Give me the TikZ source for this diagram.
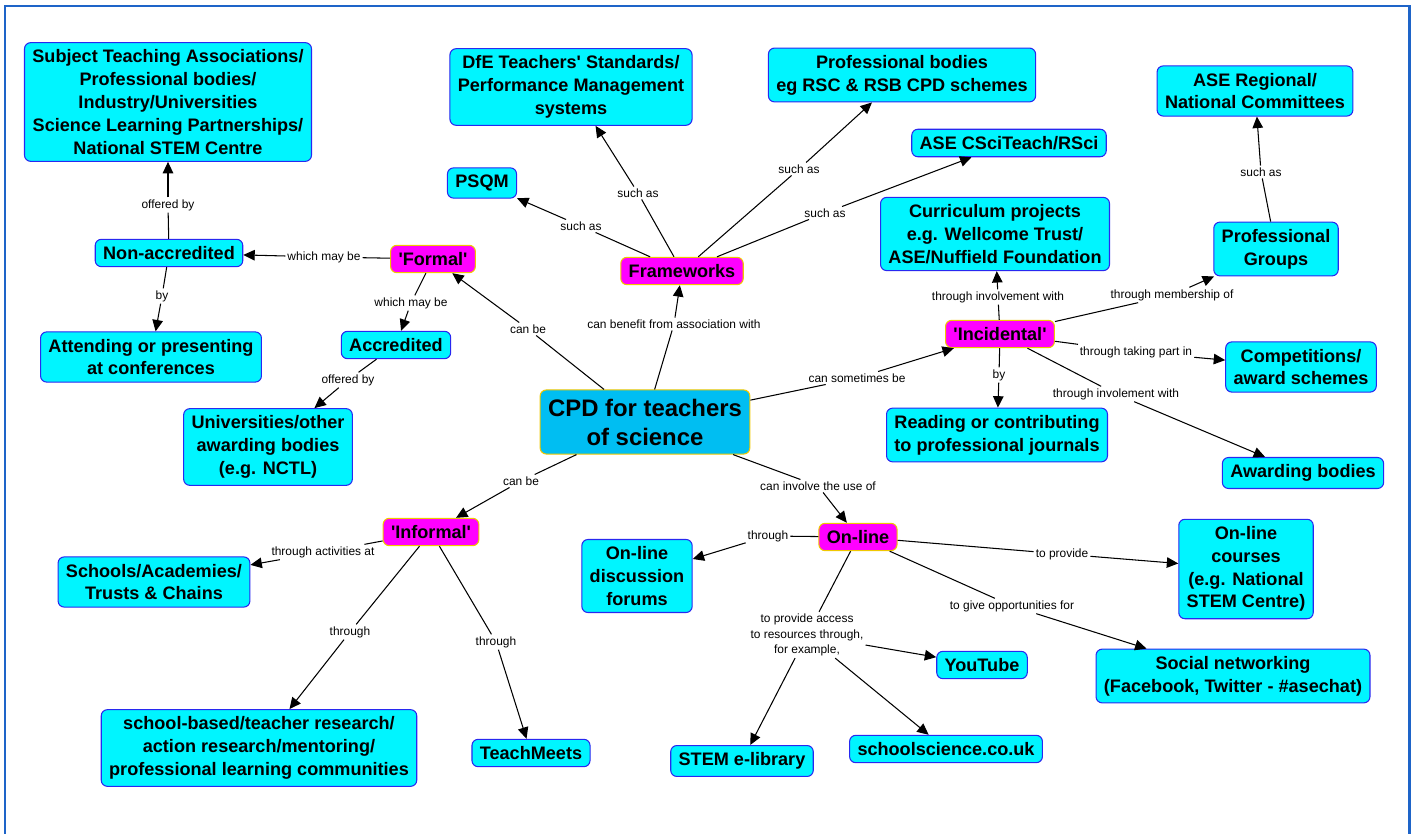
\documentclass[tikz,border=0pt]{standalone}
\usepackage{fontspec}
\setmainfont{Liberation Sans}
\usetikzlibrary{arrows.meta}
\definecolor{boxfill}{HTML}{00F5FF}
\definecolor{boxline}{HTML}{2828F0}
\definecolor{keyfill}{HTML}{FF00FF}
\definecolor{keyline}{HTML}{F0C800}
\definecolor{cpdfill}{HTML}{00BEF2}
\definecolor{framecol}{HTML}{1E64C8}
\newcommand{\sq}{\textquotesingle}
\begin{document}
\begin{tikzpicture}[x=0.02cm,y=-0.02cm,
	concept/.style={draw=boxline,fill=boxfill,rounded corners=3.5pt,align=center,
		font=\fontsize{10.3}{13}\selectfont\bfseries,inner xsep=4.5pt,inner ysep=4pt,line width=0.6pt},
	keyword/.style={concept,draw=keyline,fill=keyfill},
	linkword/.style={font=\fontsize{6.8}{8.8}\selectfont,inner sep=1pt,align=center},
	conn/.style={line width=0.6pt},
	arr/.style={conn,-{Triangle[length=6.5pt,width=6pt]}}]
	\useasboundingbox (0,0) rectangle (1413,834);
	% frame
	\draw[framecol,line width=1.7pt] (5,840) -- (5,6) -- (1409,6) -- (1409,840);
	%% the centre
	\node[concept,fill=cpdfill,draw=keyline,font=\fontsize{13.6}{16.5}\selectfont\bfseries,inner ysep=5pt] (cpd) at (645,422) {CPD for teachers\\of science};
	%% the key words
	\node[keyword] (formal) at (433,259) {\sq Formal\sq};
	\node[keyword] (frameworks) at (682,271) {Frameworks};
	\node[keyword] (incid) at (1000,334) {\sq Incidental\sq};
	\node[keyword] (informal) at (431,532) {\sq Informal\sq};
	\node[keyword] (online) at (858,537) {On-line};
	%% the concepts
	\node[concept] (sta) at (168,102) {Subject Teaching Associations/\\Professional bodies/\\Industry/Universities\\Science Learning Partnerships/\\National STEM Centre};
	\node[concept] (dfe) at (571,87) {DfE Teachers\sq{} Standards/\\Performance Management\\systems};
	\node[concept] (prof) at (902,75) {Professional bodies\\eg RSC \& RSB CPD schemes};
	\node[concept] (asereg) at (1255,91) {ASE Regional/\\National Committees};
	\node[concept] (psqm) at (482,183) {PSQM};
	\node[concept] (csci) at (1009,143) {ASE CSciTeach/RSci};
	\node[concept] (curr) at (995,234) {Curriculum projects\\e.g. Wellcome Trust/\\ASE/Nuffield Foundation};
	\node[concept] (progrp) at (1276,249) {Professional\\Groups};
	\node[concept] (nonacc) at (169,253) {Non-accredited};
	\node[concept] (attend) at (151,357) {Attending or presenting\\at conferences};
	\node[concept] (accred) at (396,345) {Accredited};
	\node[concept] (univ) at (268,447) {Universities/other\\awarding bodies\\(e.g. NCTL)};
	\node[concept] (compet) at (1301,367) {Competitions/\\award schemes};
	\node[concept] (reading) at (997,435) {Reading or contributing\\to professional journals};
	\node[concept] (awarding) at (1303,473) {Awarding bodies};
	\node[concept] (schools) at (154,582) {Schools/Academies/\\Trusts \& Chains};
	\node[concept] (sbased) at (259,748) {school-based/teacher research/\\action research/mentoring/\\professional learning communities};
	\node[concept] (teachmeets) at (531,753) {TeachMeets};
	\node[concept] (forums) at (637,576) {On-line\\discussion\\forums};
	\node[concept] (stemlib) at (742,761) {STEM e-library};
	\node[concept] (schoolsci) at (946,749) {schoolscience.co.uk};
	\node[concept] (youtube) at (982,665) {YouTube};
	\node[concept] (courses) at (1246,569) {On-line\\courses\\(e.g. National\\STEM Centre)};
	\node[concept] (social) at (1233,676) {Social networking\\(Facebook, Twitter - \#asechat)};
	%% the linking words
	\node[linkword] (lOffered1) at (168,205) {offered by};
	\node[linkword] (lMay1) at (324,257) {which may be};
	\node[linkword] (lBy1) at (162,296) {by};
	\node[linkword] (lMay2) at (411,303) {which may be};
	\node[linkword] (lOffered2) at (348,380) {offered by};
	\node[linkword] (lCanbe1) at (528,329) {can be};
	\node[linkword] (lBenefit) at (674,324) {can benefit from association with};
	\node[linkword] (lSuch1) at (581,226) {such as};
	\node[linkword] (lSuch2) at (638,193) {such as};
	\node[linkword] (lSuch3) at (799,169) {such as};
	\node[linkword] (lSuch4) at (825,213) {such as};
	\node[linkword] (lSometimes) at (857,378) {can sometimes be};
	\node[linkword] (lInvolve1) at (998,297) {through involvement with};
	\node[linkword] (lMember) at (1172,295) {through membership of};
	\node[linkword] (lSuch5) at (1261,172) {such as};
	\node[linkword] (lPart) at (1136,352) {through taking part in};
	\node[linkword] (lBy2) at (999,375) {by};
	\node[linkword] (lInvolve2) at (1116,394) {through involement with};
	\node[linkword] (lCanbe2) at (521,481) {can be};
	\node[linkword] (lUse) at (818,486) {can involve the use of};
	\node[linkword] (lActiv) at (323,552) {through activities at};
	\node[linkword] (lThrough1) at (350,632) {through};
	\node[linkword] (lThrough2) at (496,642) {through};
	\node[linkword] (lThrough3) at (768,536) {through};
	\node[linkword] (lAccess) at (807,635) {to provide access\\to resources through,\\for example,};
	\node[linkword] (lProvide) at (1062,554) {to provide};
	\node[linkword] (lOpport) at (1012,606) {to give opportunities for};
	%% the connectors
	\draw[conn] (cpd) -- (lCanbe1); \draw[arr] (lCanbe1) -- (formal);
	\draw[conn] (cpd) -- (lBenefit); \draw[arr] (lBenefit) -- (frameworks);
	\draw[conn] (cpd) -- (lSometimes); \draw[arr] (lSometimes) -- (incid);
	\draw[conn] (cpd) -- (lCanbe2); \draw[arr] (lCanbe2) -- (informal);
	\draw[conn] (cpd) -- (lUse); \draw[arr] (lUse) -- (online);
	% formal
	\draw[conn] (formal) -- (lMay1); \draw[arr] (lMay1) -- (nonacc);
	\draw[conn] (formal) -- (lMay2); \draw[arr] (lMay2) -- (accred);
	\draw[conn] (nonacc) -- (lOffered1); \draw[arr] (lOffered1) -- (sta);
	\draw[conn] (nonacc) -- (lBy1); \draw[arr] (lBy1) -- (attend);
	\draw[conn] (accred) -- (lOffered2); \draw[arr] (lOffered2) -- (univ);
	% frameworks
	\draw[conn] (frameworks) -- (lSuch1); \draw[arr] (lSuch1) -- (psqm);
	\draw[conn] (frameworks) -- (lSuch2); \draw[arr] (lSuch2) -- (dfe);
	\draw[conn] (frameworks) -- (lSuch3); \draw[arr] (lSuch3) -- (prof);
	\draw[conn] (frameworks) -- (lSuch4); \draw[arr] (lSuch4) -- (csci);
	% incidental
	\draw[conn] (incid) -- (lInvolve1); \draw[arr] (lInvolve1) -- (curr);
	\draw[conn] (incid) -- (lMember); \draw[arr] (lMember) -- (progrp);
	\draw[conn] (progrp) -- (lSuch5); \draw[arr] (lSuch5) -- (asereg);
	\draw[conn] (incid) -- (lPart); \draw[arr] (lPart) -- (compet);
	\draw[conn] (incid) -- (lBy2); \draw[arr] (lBy2) -- (reading);
	\draw[conn] (incid) -- (lInvolve2); \draw[arr] (lInvolve2) -- (awarding);
	% informal
	\draw[conn] (informal) -- (lActiv); \draw[arr] (lActiv) -- (schools);
	\draw[conn] (informal) -- (lThrough1); \draw[arr] (lThrough1) -- (sbased);
	\draw[conn] (informal) -- (lThrough2); \draw[arr] (lThrough2) -- (teachmeets);
	% on-line
	\draw[conn] (online) -- (lThrough3); \draw[arr] (lThrough3) -- (forums);
	\draw[conn] (online) -- (lAccess);
	\draw[arr] (lAccess) -- (youtube);
	\draw[arr] (lAccess) -- (stemlib);
	\draw[arr] (lAccess) -- (schoolsci);
	\draw[conn] (online) -- (lProvide); \draw[arr] (lProvide) -- (courses);
	\draw[conn] (online) -- (lOpport); \draw[arr] (lOpport) -- (social);
\end{tikzpicture}
\end{document}
